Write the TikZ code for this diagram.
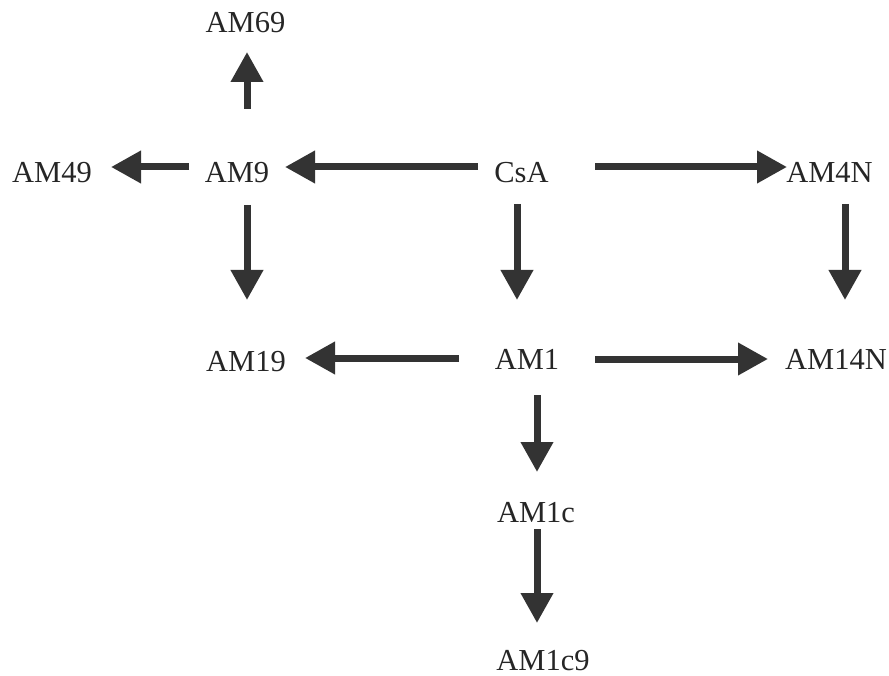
\documentclass[tikz,border=0pt]{standalone}
\usepackage{fontspec}
\setmainfont{Liberation Serif}
\usetikzlibrary{arrows.meta}
\definecolor{ink}{HTML}{333333}
\definecolor{txt}{HTML}{262626}
\begin{document}
\begin{tikzpicture}[x=1pt,y=-1pt,
  lab/.style={anchor=base,inner sep=0pt,text=txt,font=\fontsize{30.5}{36}\selectfont},
  arr/.style={draw=ink,line width=7pt,-{Triangle[width=31pt,length=30pt]},fill=ink}]
\useasboundingbox (0,0) rectangle (889,676);
\node[lab] (am69) at (245.5,33) {AM69};
\node[lab] (am49) at (52,183) {AM49};
\node[lab] (am9) at (237,183) {AM9};
\node[lab] (csa) at (521.5,183) {CsA};
\node[lab] (am4n) at (829.5,183) {AM4N};
\node[lab] (am19) at (246,371) {AM19};
\node[lab] (am1) at (527,370) {AM1};
\node[lab] (am14n) at (836,370) {AM14N};
\node[lab] (am1c) at (536,522) {AM1c};
\node[lab] (am1c9) at (543,670) {AM1c9};
% arrows
\draw[arr] ([shift={(10,-74)}]am9.base) -- ([shift={(1.5,19)}]am69.base);
\draw[arr] ([shift={(-48,-16)}]am9.base) -- ([shift={(59,-16)}]am49.base);
\draw[arr] ([shift={(-43.5,-16)}]csa.base) -- ([shift={(48,-16)}]am9.base);
\draw[arr] ([shift={(73.5,-16)}]csa.base) -- ([shift={(-42.5,-16)}]am4n.base);
\draw[arr] ([shift={(-4.5,21)}]csa.base) -- ([shift={(-10,-70)}]am1.base);
\draw[arr] ([shift={(15.5,21)}]am4n.base) -- ([shift={(9,-70)}]am14n.base);
\draw[arr] ([shift={(10,22)}]am9.base) -- ([shift={(1,-71)}]am19.base);
\draw[arr] ([shift={(-68,-12)}]am1.base) -- ([shift={(59,-13)}]am19.base);
\draw[arr] ([shift={(68,-11)}]am1.base) -- ([shift={(-68,-11)}]am14n.base);
\draw[arr] ([shift={(10,25)}]am1.base) -- ([shift={(1,-50)}]am1c.base);
\draw[arr] ([shift={(1,7)}]am1c.base) -- ([shift={(-6,-47)}]am1c9.base);
\end{tikzpicture}
\end{document}
